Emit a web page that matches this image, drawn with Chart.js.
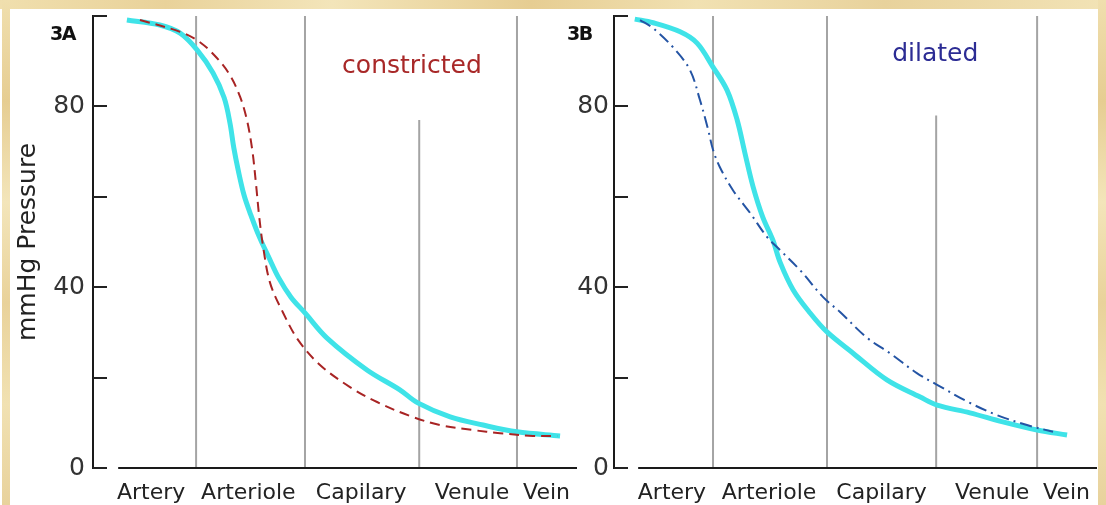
<!DOCTYPE html>
<html>
<head>
<meta charset="utf-8">
<script src="https://cdn.jsdelivr.net/npm/chart.js@4.4.1/dist/chart.umd.min.js"></script>
<style>
html, body { margin: 0; padding: 0; background: #fff; }
#wrap { position: relative; width: 1106px; height: 505px; overflow: hidden; background: #fff; }
.frame { position: absolute; z-index: 5; }
#fTop { left: 0; top: 0; width: 1106px; height: 9px;
  background: linear-gradient(90deg, #f0dfae, #e9d29a 15%, #f3e5ba 30%, #e6cd92 48%, #f1e1b2 63%, #e8d29c 80%, #f2e3b6); }
#fLeft { left: 2px; top: 0; width: 8px; height: 505px;
  background: linear-gradient(180deg, #f0dfae, #e6cd92 20%, #f3e5ba 40%, #e9d29a 60%, #f1e1b2 80%, #e8d29c); }
#fRight { left: 1098px; top: 0; width: 8px; height: 505px;
  background: linear-gradient(180deg, #f0dfae, #e6cd92 20%, #f3e5ba 40%, #e9d29a 60%, #f1e1b2 80%, #e8d29c); }
canvas { position: absolute; top: 0; }
#cA { left: 0; }
#cB { left: 560px; }
.tag { position: absolute; top: 22px; font: bold 19px "DejaVu Sans"; letter-spacing: -1.5px; color: #111; z-index: 4; }
</style>
</head>
<body>
<div id="wrap">
  <div class="frame" id="fTop"></div>
  <div class="frame" id="fLeft"></div>
  <div class="frame" id="fRight"></div>
  <canvas id="cA" width="577" height="505"></canvas>
  <canvas id="cB" width="537" height="505"></canvas>
  <div class="tag" style="left:50px">3A</div>
  <div class="tag" style="left:567px">3B</div>
</div>
<script>
// categories along the vessel bed
const vessels = ['Artery', 'Arteriole', 'Capilary', 'Venule', 'Vein'];
const vesselLabelPos = [12.0, 32.1, 55.4, 78.3, 93.7];
const yLabelled = [0, 40, 80];

// 3A - constricted
const dividerA = [21.3, 43.8, 67.4, 87.6];
const dividerTopA = [100, 100, 77, 100];
const axisStartA = 5.2;
const normalA_x = [7.0, 13.8, 18.0, 21.5, 24.8, 27.1, 28.3, 29.1, 30.0, 31.2, 32.6, 34.3, 36.2, 38.4, 40.9, 43.8, 48.3, 56.6, 63.4, 67.1, 73.8, 80.6, 87.6, 96.5];
const normalA_y = [99.1, 98.0, 96.2, 92.5, 87.4, 81.9, 76.3, 70.8, 65.9, 60.4, 56.0, 51.3, 46.9, 42.0, 37.8, 34.3, 28.8, 21.7, 17.3, 14.4, 11.3, 9.5, 8.0, 7.1];
const constrictedA_x = [9.7, 18.0, 22.1, 25.6, 28.3, 30.4, 31.8, 32.9, 33.7, 34.3, 35.1, 36.6, 39.3, 42.4, 46.9, 53.1, 58.7, 65.5, 71.7, 78.5, 84.1, 90.9, 95.9];
const constrictedA_y = [99.1, 96.5, 94.2, 90.7, 86.9, 82.1, 77.0, 70.4, 62.6, 56.0, 49.3, 40.9, 34.3, 28.3, 22.8, 17.9, 14.6, 11.5, 9.5, 8.4, 7.7, 7.1, 7.1];

// 3B - dilated
const dividerB = [20.5, 44.1, 66.7, 87.6];
const dividerTopB = [100, 100, 78, 100];
const axisStartB = 5.0;
const normalB_x = [4.3, 8.1, 13.7, 17.2, 20.5, 23.4, 25.5, 27.1, 28.8, 30.8, 32.9, 34.4, 37.1, 40.6, 44.1, 49.5, 56.5, 63.4, 66.9, 73.7, 80.5, 87.6, 93.8];
const normalB_y = [99.3, 98.5, 96.5, 94.0, 88.7, 83.6, 77.0, 69.7, 62.2, 55.5, 50.4, 45.5, 39.4, 34.3, 30.1, 25.4, 19.5, 15.7, 13.9, 12.2, 10.2, 8.4, 7.3];
const dilatedB_x = [5.4, 8.1, 12.2, 15.7, 17.8, 19.5, 20.5, 21.9, 24.6, 28.2, 31.7, 34.4, 38.5, 43.3, 46.8, 52.4, 57.1, 62.7, 66.9, 73.7, 79.3, 85.5, 90.9];
const dilatedB_y = [99.1, 97.3, 93.1, 88.1, 81.4, 74.8, 70.4, 66.6, 61.5, 56.4, 51.1, 48.2, 43.8, 37.8, 34.5, 28.8, 25.4, 21.0, 18.4, 14.4, 11.7, 9.5, 8.0];

const FONT = 'DejaVu Sans';

function pts(xs, ys) {
  return xs.map((x, i) => ({ x: x, y: ys[i] }));
}

// short tick marks on the inner side of the y axis
const innerTicks = {
  id: 'innerTicks',
  afterDatasetsDraw(chart) {
    const y = chart.scales.y, ctx = chart.ctx, l = chart.chartArea.left;
    ctx.save();
    ctx.strokeStyle = '#222';
    ctx.lineWidth = 2;
    y.ticks.forEach(t => {
      const py = Math.round(y.getPixelForValue(t.value));
      ctx.beginPath();
      ctx.moveTo(l, py);
      ctx.lineTo(l + 14, py);
      ctx.stroke();
    });
    ctx.restore();
  }
};

// the word in the corner of each panel
const noteText = {
  id: 'noteText',
  afterDatasetsDraw(chart, args, o) {
    const ctx = chart.ctx;
    ctx.save();
    ctx.font = '25px "' + FONT + '"';
    ctx.fillStyle = o.color;
    ctx.textAlign = 'center';
    ctx.textBaseline = 'middle';
    ctx.fillText(o.text, chart.scales.x.getPixelForValue(o.x), chart.scales.y.getPixelForValue(o.y));
    ctx.restore();
  }
};

function makePanel(id, p) {
  const ds = [];
  ds.push({ data: pts(p.normX, p.normY), borderColor: '#3fe3e8', borderWidth: 5, order: 1 });
  ds.push({ data: pts(p.altX, p.altY), borderColor: p.altColor, borderWidth: 2, borderDash: p.dash, order: 0 });
  p.dividers.forEach((d, i) => {
    ds.push({ data: [{ x: d, y: 0 }, { x: d, y: p.tops[i] }], borderColor: '#a4a4a4', borderWidth: 2, tension: 0, order: 3 });
  });
  ds.push({ data: [{ x: p.axisStart, y: 0 }, { x: 100, y: 0 }], borderColor: '#1a1a1a', borderWidth: 2, tension: 0, order: 2 });

  return new Chart(document.getElementById(id), {
    type: 'line',
    data: { datasets: ds },
    options: {
      responsive: false,
      animation: false,
      datasets: { line: { pointRadius: 0, tension: 0.35, clip: false } },
      layout: { padding: { top: 16, left: 0, right: 0, bottom: 0 } },
      plugins: { legend: { display: false }, tooltip: { enabled: false },
        noteText: { text: p.note, color: p.noteColor, x: p.noteX, y: p.noteY } },
      scales: {
        x: {
          type: 'linear', min: 0, max: 100,
          grid: { display: false, drawTicks: false },
          border: { display: false },
          afterBuildTicks: s => { s.ticks = vesselLabelPos.map(v => ({ value: v })); },
          afterFit: s => { s.height = 37; s.paddingLeft = 0; s.paddingRight = 0; },
          ticks: { autoSkip: false, maxRotation: 0, padding: 12, color: '#222',
            font: { family: FONT, size: 22 },
            callback: (v, i) => vessels[i] }
        },
        y: {
          min: 0, max: 100,
          grid: { display: false, drawTicks: false },
          border: { display: true, color: '#1a1a1a', width: 2 },
          afterFit: s => { s.width = p.yWidth; s.paddingTop = 0; s.paddingBottom = 0; },
          ticks: { stepSize: 20, padding: p.yPad, color: '#333',
            font: { family: FONT, size: 25 },
            callback: v => yLabelled.includes(v) ? String(v) : '' },
          title: { display: p.showTitle, text: 'mmHg Pressure', color: '#222',
            font: { family: FONT, size: 25 }, padding: { top: 13 } }
        }
      }
    },
    plugins: [innerTicks, noteText]
  });
}

makePanel('cA', {
  normX: normalA_x, normY: normalA_y,
  altX: constrictedA_x, altY: constrictedA_y, altColor: '#a82424', dash: [10, 6],
  dividers: dividerA, tops: dividerTopA, axisStart: axisStartA,
  yWidth: 93, yPad: 8, showTitle: true,
  note: 'constricted', noteColor: '#a82828', noteX: 65.9, noteY: 88.9
});

makePanel('cB', {
  normX: normalB_x, normY: normalB_y,
  altX: dilatedB_x, altY: dilatedB_y, altColor: '#2454a4', dash: [12, 5, 2, 5],
  dividers: dividerB, tops: dividerTopB, axisStart: axisStartB,
  yWidth: 54, yPad: 5, showTitle: false,
  note: 'dilated', noteColor: '#2c2c94', noteX: 66.5, noteY: 91.4
});
</script>
</body>
</html>
